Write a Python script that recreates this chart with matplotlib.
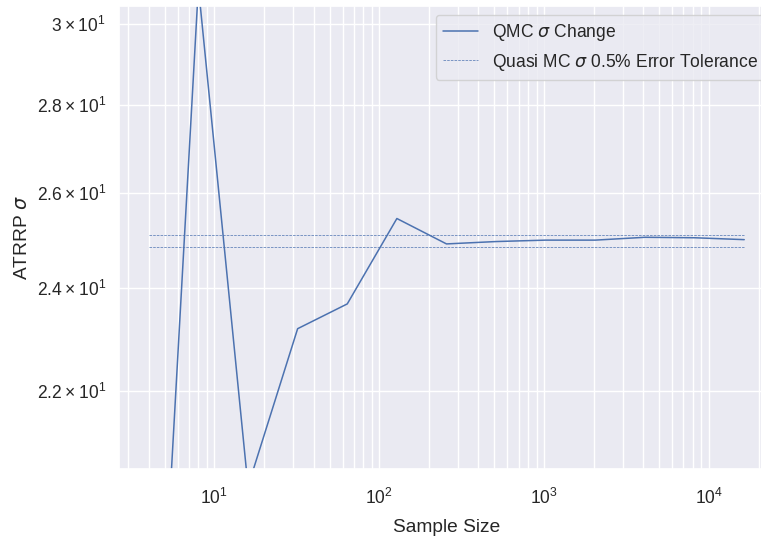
import numpy as np
import matplotlib
matplotlib.use("Agg")
import matplotlib.pyplot as plt
import seaborn as sns

# sample sizes and the QMC estimate of ATRRP sigma
sample_sizes = [4, 8, 16, 32, 64, 128, 256, 512, 1024, 2048, 4096, 8192, 16384]
qmc_sigma = [14.6, 30.95, 20.3, 23.19, 23.68, 25.45, 24.91, 24.96, 24.99, 24.99, 25.05, 25.04, 25.00]

# converged sigma and the tolerance band around it
sigma_ref = 24.97
tolerance = 0.005

sns.set_theme(style="darkgrid", font_scale=1.15)
plt.rcParams['font.family'] = ['Liberation Sans', 'DejaVu Sans']

fig = plt.figure(figsize=(7.61, 5.41), dpi=100)
ax = fig.add_axes([119/761, 72/541, 655/761, 463/541])

ax.plot(sample_sizes, qmc_sigma, lw=1.1, color="#4c72b0", label=r"QMC $\sigma$ Change")
band = [sigma_ref * (1 + tolerance), sigma_ref * (1 - tolerance)]
ax.plot(sample_sizes, [band[0]] * len(sample_sizes), ls="--", lw=0.5, color="#4c72b0",
        label=r"Quasi MC $\sigma$ 0.5% Error Tolerance")
ax.plot(sample_sizes, [band[1]] * len(sample_sizes), ls="--", lw=0.5, color="#4c72b0")

ax.set_xscale("log")
ax.set_yscale("log")
ax.set_ylim(20.6, 30.45)
ax.grid(True, which="both")
ax.tick_params(axis="x", which="both", pad=7.5)
ax.tick_params(axis="y", which="both", pad=5.5)

ax.set_xlabel("Sample Size", labelpad=8)
ax.set_ylabel(r"ATRRP $\sigma$")
ax.legend(loc="upper right")

fig.savefig("out.png", dpi=100)
